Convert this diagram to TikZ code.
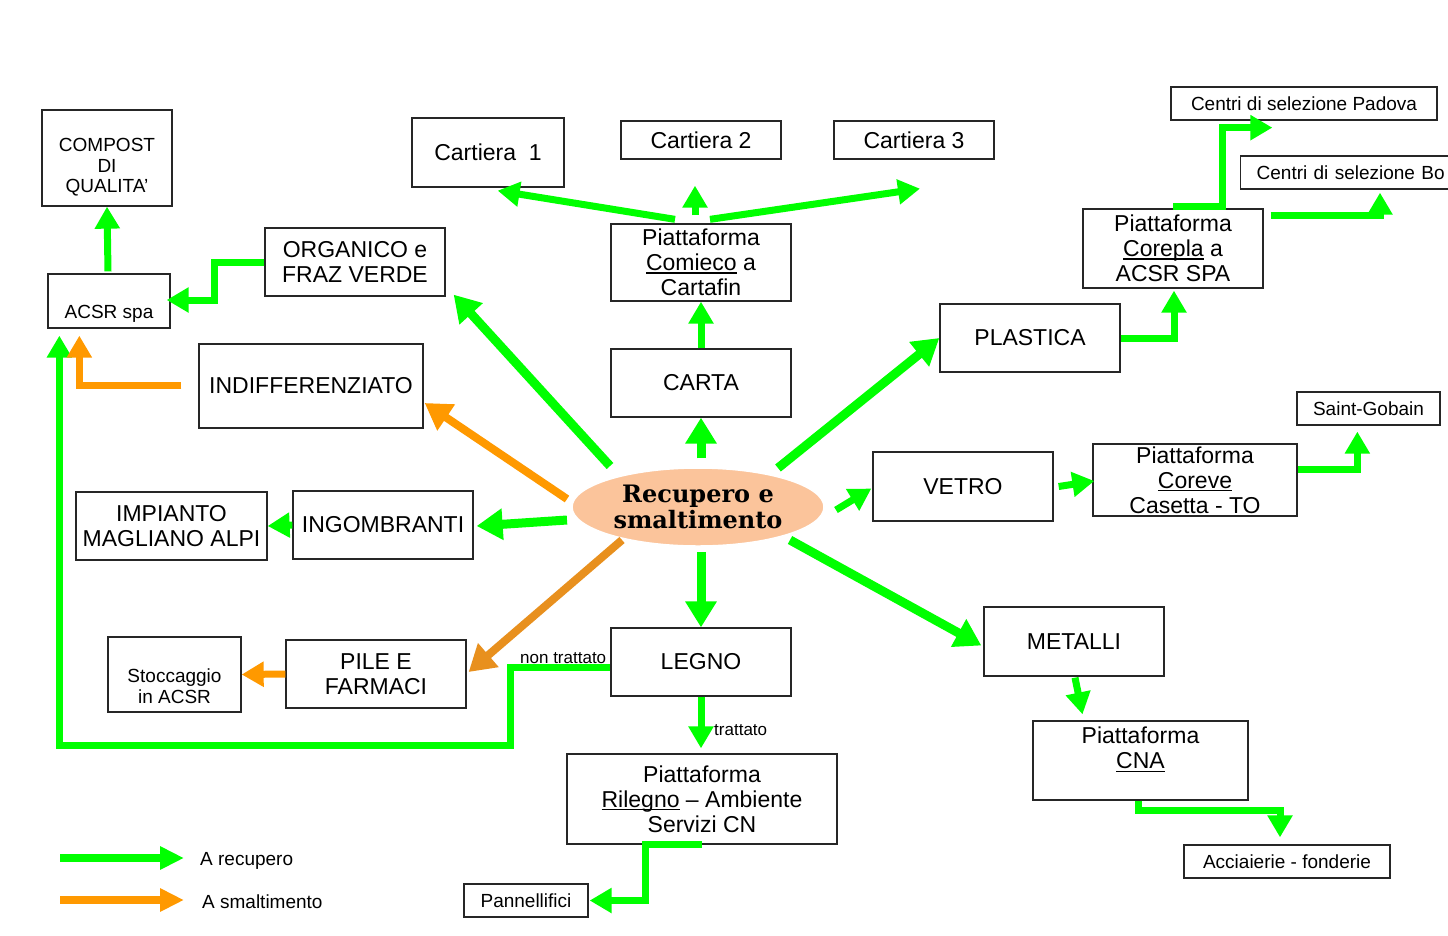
\documentclass[tikz,border=0pt]{standalone}
\usepackage{fontspec}
\setmainfont{Liberation Sans}
\newfontfamily\ellfont{DejaVu Serif}
\usetikzlibrary{arrows.meta,calc,shapes.geometric}
\definecolor{gr}{HTML}{00FF00}
\definecolor{orA}{HTML}{FF9900}
\definecolor{orB}{HTML}{E8901E}
\definecolor{peach}{HTML}{FBC49B}
\newcommand{\ulin}[1]{\setbox0\hbox{#1}\rlap{\rule[-3pt]{\wd0}{1.3pt}}\box0\relax}
\begin{document}
\begin{tikzpicture}[x=1pt,y=-1pt,
  box/.style={draw=black!85, line width=1.3pt, fill=white, rectangle, inner sep=0pt, align=center, font=\fontsize{23}{25}\selectfont},
  sbox/.style={box, font=\fontsize{19}{20.5}\selectfont},
  txt/.style={inner sep=0pt, align=center, font=\fontsize{19}{20.5}\selectfont},
  lbl/.style={inner sep=0pt, font=\fontsize{17}{19}\selectfont},
  ga/.style={draw=gr, line width=9pt, -{Triangle[length=26pt,width=30pt]}},
  gb/.style={draw=gr, line width=7pt, -{Triangle[length=22pt,width=24pt]}},
  oa/.style={draw=orA, line width=8pt, -{Triangle[length=26pt,width=30pt]}},
  ob/.style={draw=orA, line width=7pt, -{Triangle[length=22pt,width=24pt]}},
  lg/.style={line width=8pt, -{Triangle[length=24pt,width=22pt]}}
]
\useasboundingbox (0,0) rectangle (1448,935);
\clip (0,0) rectangle (1448,935);
\fill[white] (0,0) rectangle (1448,935);

% boxes
\node[box, minimum width=130pt, minimum height=96pt] (compost) at (107,158) {};
\node[txt] (compostT) at (107,167.5) {COMPOST\\DI\\QUALITA’};
\node[box, minimum width=122pt, minimum height=54pt] (acsr) at (109,301) {};
\node[txt, anchor=base] (acsrT) at (109,318) {ACSR spa};
\node[box, minimum width=180pt, minimum height=68pt] (organico) at (355,262) {ORGANICO e\\FRAZ VERDE};
\node[box, minimum width=152pt, minimum height=69pt] (cart1) at (488,152.5) {Cartiera\ \ 1};
\node[box, minimum width=160pt, minimum height=38pt] (cart2) at (701,140) {Cartiera 2};
\node[box, minimum width=160pt, minimum height=38pt] (cart3) at (914,140) {Cartiera 3};
\node[box, minimum width=180pt, minimum height=77pt] (comieco) at (701,262.5) {Piattaforma\\\ulin{Comieco} a\\Cartafin};
\node[box, minimum width=180pt, minimum height=68pt] (carta) at (701,383) {CARTA};
\node[box, minimum width=224pt, minimum height=84pt] (indiff) at (311,386) {INDIFFERENZIATO};
\node[box, minimum width=180pt, minimum height=68pt] (plastica) at (1030,338) {PLASTICA};
\node[box, minimum width=180pt, minimum height=79pt] (corepla) at (1173,248.5) {Piattaforma\\\ulin{Corepla} a\\ACSR SPA};
\node[sbox, minimum width=266pt, minimum height=33pt] (padova) at (1304,103.5) {Centri di selezione Padova};
\node[sbox, anchor=west, minimum width=260pt, minimum height=33pt, text width=228pt, inner xsep=16pt, align=left] (bo) at (1240,172.5) {Centri di selezione Bo};
\node[sbox, minimum width=143pt, minimum height=33pt] (saint) at (1368.5,408.5) {Saint-Gobain};
\node[box, minimum width=180pt, minimum height=69pt] (vetro) at (963,486.5) {VETRO};
\node[box, minimum width=204pt, minimum height=72pt] (coreve) at (1195,480) {Piattaforma\\\ulin{Coreve}\\Casetta - TO};
\node[box, minimum width=191pt, minimum height=68pt] (impianto) at (171.5,526) {IMPIANTO\\MAGLIANO ALPI};
\node[box, minimum width=180pt, minimum height=68pt] (ingomb) at (383,525) {INGOMBRANTI};
\node[box, minimum width=133pt, minimum height=75pt] (stocc) at (174.5,674.5) {};
\node[txt] (stoccT) at (174.5,686) {Stoccaggio\\in ACSR};
\node[box, minimum width=180pt, minimum height=68pt] (pile) at (376,674) {PILE E\\FARMACI};
\node[box, minimum width=180pt, minimum height=68pt] (legno) at (701,662) {LEGNO};
\node[box, minimum width=270pt, minimum height=90pt] (rilegno) at (702,799) {Piattaforma\\\ulin{Rilegno} – Ambiente\\Servizi CN};
\node[sbox, minimum width=124pt, minimum height=33pt] (pannel) at (526,900.5) {Pannellifici};
\node[box, minimum width=180pt, minimum height=69pt] (metalli) at (1074,641.5) {METALLI};
\node[box, minimum width=215pt, minimum height=79pt] (cna) at (1140.5,760.5) {};
\node[box, draw=none, fill=none] (cnaT) at (1140.5,749.5) {Piattaforma\\\ulin{CNA}};
\node[sbox, minimum width=206pt, minimum height=33pt] (acciai) at (1287,861.5) {Acciaierie - fonderie};

% centre ellipse
\node[ellipse, fill=peach, draw=white, line width=1.5pt, minimum width=252pt, minimum height=78pt, inner sep=0pt, align=center, font={\ellfont\bfseries\fontsize{24}{26}\selectfont}] (ell) at (698,507) {Recupero e\\smaltimento};

% star arrows
\draw[ga] ($(ell.center)+(-88,-41)$) -- ($(organico.south east)+(8,-2)$);
\draw[ga] ($(ell.north)+(3,-9)$) -- (carta.south);
\draw[ga] ($(ell.center)+(80,-39)$) -- (plastica.west);
\draw[gb] ($(ell.center)+(138,3)$) -- ($(vetro.west)+(-1,2)$);
\draw[ga] ($(ell.center)+(92,33)$) -- ($(metalli.west)+(-2,4)$);
\draw[ga] ($(ell.south)+(3,5)$) -- (legno.north);
\draw[ga] ($(ell.center)+(-131,13)$) -- ($(ingomb.east)+(3,1)$);
\draw[oa] ($(ell.center)+(-131,-8)$) -- ($(indiff.east)+(1,17)$);
\draw[oa, draw=orB] ($(ell.center)+(-76,33)$) -- ($(pile.east)+(2,-2)$);

% carta
\draw[gb] (carta.north) -- (comieco.south);
\draw[gb] ($(comieco.north)+(-26,-4)$) -- ($(cart1.south east)+(-67,3)$);
\draw[gb] ($(comieco.north)+(-6,-8)$) -- ($(cart2.south)+(-6,26)$);
\draw[gb] ($(comieco.north)+(9,-4)$) -- ($(cart3.south)+(6,29)$);

% plastica
\draw[gb] (plastica.east) -| ($(corepla.south)+(1,2)$);
\draw[gb] ($(corepla.north)+(0,-2)$) -- ++(49,0) |- ($(padova.south west)+(102,7)$);
\draw[gb] ($(corepla.north east)+(7,7)$) -| ($(bo.south west)+(140,3)$);

% vetro
\draw[gb] ($(vetro.east)+(5,0)$) -- ($(coreve.west)+(2,1)$);
\draw[gb] ($(coreve.east)+(0,-11)$) -| ($(saint.south west)+(61,6)$);

% metalli
\draw[gb] ($(metalli.south)+(1,1)$) -- ($(cna.north)+(-58,-6)$);
\draw[gb] ($(cna.south)+(-2,0)$) -- ++(0,10) -| ($(acciai.north)+(-7,-7)$);

% legno
\draw[gb] (legno.south) -- ($(rilegno.north)+(-1,-5)$);
\node[lbl, anchor=base west] (tlab) at (714,735) {trattato};
\draw[gb] ($(legno.west)+(0,5)$) -- ++(-100,0) -- ++(0,78) -| ($(acsr.south west)+(12,7)$);
\node[lbl, anchor=base west] (ntlab) at (520,663) {non trattato};
\draw[gb] (rilegno.south) -- ++(-57,0) |- ($(pannel.east)+(1,0)$);

% left side
\draw[gb] (ingomb.west) -- (impianto.east);
\draw[gb] (organico.west) -- ++(-50,0) |- ($(acsr.east)+(-4,-1)$);
\draw[gb] ($(acsr.north)+(-1,-2)$) -- (compost.south);
\draw[ob] ($(indiff.west)+(-17,-1)$) -| ($(acsr.south west)+(32,7)$);
\draw[ob] (pile.west) -- (stocc.east);

% legend
\coordinate (lg1) at (60,858);
\coordinate (lg2) at (184,858);
\coordinate (lg3) at (60,900);
\coordinate (lg4) at (184,900);
\draw[lg, draw=gr] (lg1) -- (lg2);
\draw[lg, draw=orA] (lg3) -- (lg4);
\node[txt, anchor=base west] (legG) at (200,865) {A recupero};
\node[txt, anchor=base west] (legO) at (202,908) {A smaltimento};
\end{tikzpicture}
\end{document}
